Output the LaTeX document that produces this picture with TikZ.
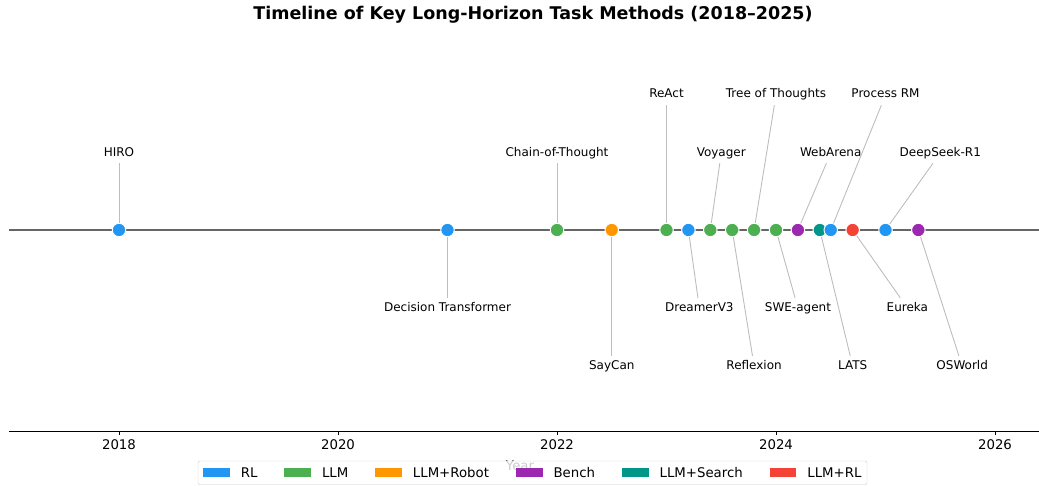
\documentclass[tikz,border=0pt]{standalone}
\usepackage{fontspec}
\setmainfont{DejaVu Sans}
\usetikzlibrary{positioning}

\definecolor{rlblue}{HTML}{2196F3}
\definecolor{llmgreen}{HTML}{4CAF50}
\definecolor{robotorange}{HTML}{FF9800}
\definecolor{benchpurple}{HTML}{9C27B0}
\definecolor{searchteal}{HTML}{009688}
\definecolor{llmrlred}{HTML}{F44336}
\definecolor{linegray}{HTML}{666666}
\definecolor{leadgray}{HTML}{BDBDBD}
\definecolor{keyframe}{HTML}{CCCCCC}

\begin{document}
\begin{tikzpicture}[x=109.5pt, y=1pt,
  event/.style={circle, fill=#1, draw=white, line width=1pt, minimum size=13.5pt, inner sep=0pt},
  lbl/.style={inner sep=4pt, text height=9pt, text depth=3pt, font=\fontsize{12}{14}\selectfont},
  lead/.style={draw=leadgray, line width=0.9pt},
  yearlbl/.style={font=\fontsize{13.3}{16}\selectfont},
  swatch/.style={fill=#1, minimum width=26.6pt, minimum height=9.5pt, inner sep=0pt},
  keytext/.style={inner sep=0pt, font=\fontsize{13.3}{16}\selectfont}]
  \useasboundingbox (-1.0868,-255) rectangle (8.4018,230);

  \node[font=\bfseries\fontsize{17.5}{21}\selectfont] (title) at (3.781,215)
    {Timeline of Key Long-Horizon Task Methods (2018--2025)};

  % x counts years after 2018
  \coordinate (tl-west) at (-1.0046,0);
  \coordinate (tl-east) at (8.4018,0);
  \draw[linegray, line width=1.8pt] (tl-west) -- (tl-east);

  \draw[line width=0.9pt] (-1.0046,-201.7) -- (8.4018,-201.7);
  \draw[line width=0.8pt] (0,-201.7) -- (0,-205.2);
  \draw[line width=0.8pt] (2,-201.7) -- (2,-205.2);
  \draw[line width=0.8pt] (4,-201.7) -- (4,-205.2);
  \draw[line width=0.8pt] (6,-201.7) -- (6,-205.2);
  \draw[line width=0.8pt] (8,-201.7) -- (8,-205.2);
  \node[yearlbl] (y2018) at (0,-215) {2018};
  \node[yearlbl] (y2020) at (2,-215) {2020};
  \node[yearlbl] (y2022) at (4,-215) {2022};
  \node[yearlbl] (y2024) at (6,-215) {2024};
  \node[yearlbl] (y2026) at (8,-215) {2026};

  \node[event=rlblue] (hiro) at (0,0) {};
  \node[lbl] (hiro-l) at (0,77) {HIRO};
  \draw[lead] (hiro) -- (hiro-l);

  \node[event=rlblue] (dt) at (3,0) {};
  \node[lbl] (dt-l) at (3,-78) {Decision Transformer};
  \draw[lead] (dt) -- (dt-l);

  \node[event=llmgreen] (cot) at (4,0) {};
  \node[lbl] (cot-l) at (4,77) {Chain-of-Thought};
  \draw[lead] (cot) -- (cot-l);

  \node[event=robotorange] (saycan) at (4.5,0) {};
  \node[lbl] (saycan-l) at (4.5,-136) {SayCan};
  \draw[lead] (saycan) -- (saycan-l);

  \node[event=llmgreen] (react) at (5,0) {};
  \node[lbl] (react-l) at (5,135) {ReAct};
  \draw[lead] (react) -- (react-l);

  \node[event=rlblue] (dreamer) at (5.2,0) {};
  \node[lbl] (dreamer-l) at (5.3,-78) {DreamerV3};
  \draw[lead] (dreamer) -- (dreamer-l);

  \node[event=llmgreen] (voyager) at (5.4,0) {};
  \node[lbl] (voyager-l) at (5.5,77) {Voyager};
  \draw[lead] (voyager) -- (voyager-l);

  \node[event=llmgreen] (reflexion) at (5.6,0) {};
  \node[lbl] (reflexion-l) at (5.8,-136) {Reflexion};
  \draw[lead] (reflexion) -- (reflexion-l);

  \node[event=llmgreen] (tot) at (5.8,0) {};
  \node[lbl] (tot-l) at (6.0,135) {Tree of Thoughts};
  \draw[lead] (tot) -- (tot-l);

  \node[event=llmgreen] (swe) at (6.0,0) {};
  \node[lbl] (swe-l) at (6.2,-78) {SWE-agent};
  \draw[lead] (swe) -- (swe-l);

  \node[event=benchpurple] (webarena) at (6.2,0) {};
  \node[lbl] (webarena-l) at (6.5,77) {WebArena};
  \draw[lead] (webarena) -- (webarena-l);

  \node[event=searchteal] (lats) at (6.4,0) {};
  \node[lbl] (lats-l) at (6.7,-136) {LATS};
  \draw[lead] (lats) -- (lats-l);

  \node[event=rlblue] (prm) at (6.5,0) {};
  \node[lbl] (prm-l) at (7.0,135) {Process RM};
  \draw[lead] (prm) -- (prm-l);

  \node[event=llmrlred] (eureka) at (6.7,0) {};
  \node[lbl] (eureka-l) at (7.2,-78) {Eureka};
  \draw[lead] (eureka) -- (eureka-l);

  \node[event=rlblue] (r1) at (7.0,0) {};
  \node[lbl] (r1-l) at (7.5,77) {DeepSeek-R1};
  \draw[lead] (r1) -- (r1-l);

  \node[event=benchpurple] (osworld) at (7.3,0) {};
  \node[lbl] (osworld-l) at (7.7,-136) {OSWorld};
  \draw[lead] (osworld) -- (osworld-l);

  % legend sits over the axis label
  \node[yearlbl] (xlabel) at (3.662,-236) {Year};
  \draw[keyframe, fill=white, fill opacity=0.8, rounded corners=2pt]
    (0.7215,-231) rectangle (6.831,-254.5);
  \node[swatch=rlblue] (key-rl) at (0.8904,-242.7) {};
  \node[keytext, right=10.6pt of key-rl] (key-rl-t) {RL};
  \node[swatch=llmgreen, right=26.6pt of key-rl-t] (key-llm) {};
  \node[keytext, right=10.6pt of key-llm] (key-llm-t) {LLM};
  \node[swatch=robotorange, right=26.6pt of key-llm-t] (key-robot) {};
  \node[keytext, right=10.6pt of key-robot] (key-robot-t) {LLM+Robot};
  \node[swatch=benchpurple, right=26.6pt of key-robot-t] (key-bench) {};
  \node[keytext, right=10.6pt of key-bench] (key-bench-t) {Bench};
  \node[swatch=searchteal, right=26.6pt of key-bench-t] (key-search) {};
  \node[keytext, right=10.6pt of key-search] (key-search-t) {LLM+Search};
  \node[swatch=llmrlred, right=26.6pt of key-search-t] (key-llmrl) {};
  \node[keytext, right=10.6pt of key-llmrl] (key-llmrl-t) {LLM+RL};
\end{tikzpicture}
\end{document}
